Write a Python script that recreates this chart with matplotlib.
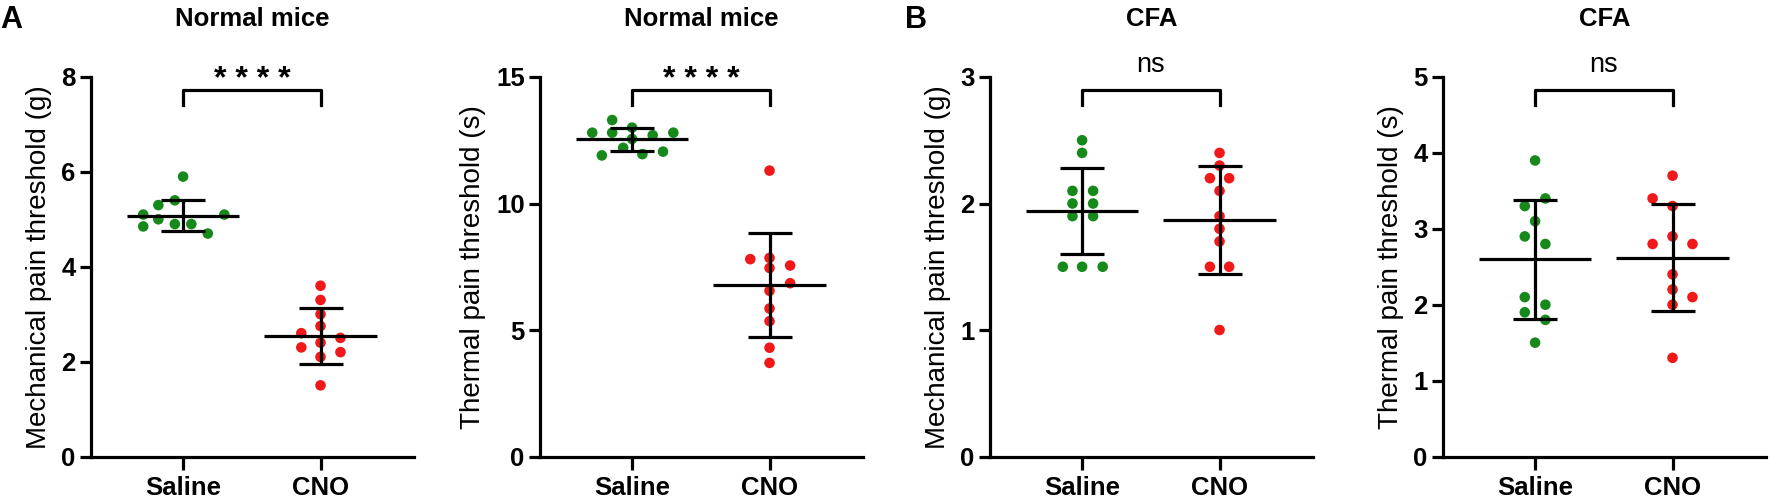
import matplotlib
matplotlib.use("Agg")
import matplotlib.pyplot as plt
import numpy as np

plt.rcParams['font.family'] = ['Liberation Sans', 'DejaVu Sans']

groups = ["Saline", "CNO"]
titles = ["Normal mice", "Normal mice", "CFA", "CFA"]
ylabels = ["Mechanical pain threshold (g)", "Thermal pain threshold (s)",
           "Mechanical pain threshold (g)", "Thermal pain threshold (s)"]
signif = ["* * * *", "* * * *", "ns", "ns"]
ymax = [8, 15, 3, 5]
yticks = [[0, 2, 4, 6, 8], [0, 5, 10, 15], [0, 1, 2, 3], [0, 1, 2, 3, 4, 5]]

# Panel A, mechanical (normal mice)
mech_normal_saline = [5.9, 5.3, 5.4, 5.1, 5.1, 5.0, 4.85, 4.9, 4.9, 4.7]
mech_normal_cno = [3.6, 3.3, 3.0, 2.75, 2.6, 2.5, 2.3, 2.4, 2.2, 2.1, 1.5]
# Panel A, thermal (normal mice)
therm_normal_saline = [13.3, 12.8, 12.8, 13.0, 12.8, 12.7, 12.55, 12.2, 12.05, 11.9, 11.95]
therm_normal_cno = [11.3, 7.8, 7.85, 7.45, 7.55, 6.85, 6.55, 5.85, 5.35, 4.3, 3.7]
# Panel B, mechanical (CFA)
mech_cfa_saline = [2.5, 2.4, 2.1, 2.1, 2.0, 2.0, 1.9, 1.9, 1.5, 1.5, 1.5]
mech_cfa_cno = [2.4, 2.3, 2.2, 2.2, 2.1, 1.9, 1.8, 1.7, 1.5, 1.5, 1.0]
# Panel B, thermal (CFA)
therm_cfa_saline = [3.9, 3.4, 3.3, 3.1, 2.9, 2.8, 2.1, 2.0, 1.9, 1.8, 1.5]
therm_cfa_cno = [3.7, 3.4, 3.3, 2.9, 2.8, 2.8, 2.4, 2.2, 2.1, 2.0, 1.3]

# mean and SD as drawn (saline, CNO)
means = [[5.08, 2.55], [12.54, 6.78], [1.94, 1.87], [2.60, 2.62]]
sds = [[0.32, 0.59], [0.45, 2.07], [0.34, 0.43], [0.785, 0.705]]

# horizontal scatter layout offsets (category units)
jit_1s = [0, -0.18, -0.06, -0.29, 0.30, -0.18, -0.29, -0.06, 0.06, 0.18]
jit_1c = [0, 0, 0, 0, -0.14, 0.145, -0.14, 0, 0.145, 0, 0]
jit_2s = [-0.145, -0.29, -0.145, 0, 0.30, 0.15, 0, -0.065, 0.225, -0.22, 0.075]
jit_2c = [0, -0.14, 0, 0, 0.15, 0.15, 0, 0, 0, 0, 0]
jit_3s = [0, 0, -0.07, 0.08, -0.07, 0.08, -0.07, 0.08, -0.14, 0, 0.15]
jit_3c = [0, 0, -0.07, 0.07, 0, 0, 0, 0, -0.07, 0.07, 0]
jit_4s = [0, 0.075, -0.075, 0, -0.075, 0.075, -0.075, 0.075, -0.075, 0.075, 0]
jit_4c = [0, -0.145, 0, 0, -0.145, 0.145, 0, 0, 0.145, 0, 0]

data = [(mech_normal_saline, mech_normal_cno), (therm_normal_saline, therm_normal_cno),
        (mech_cfa_saline, mech_cfa_cno), (therm_cfa_saline, therm_cfa_cno)]
jits = [(jit_1s, jit_1c), (jit_2s, jit_2c), (jit_3s, jit_3c), (jit_4s, jit_4c)]

colors = ["#17891a", "#f01818"]
lw = 2.3

fig = plt.figure(figsize=(17.72, 5.03), dpi=100)
lefts = [91, 540, 990, 1443]
W, H = 1772, 503
for i in range(4):
    ax = fig.add_axes([lefts[i] / W, (H - 456.5) / H, 323 / W, (456.5 - 77) / H])
    for g in range(2):
        vals = np.array(data[i][g])
        xs = g + np.array(jits[i][g])
        ax.scatter(xs, vals, s=58, color=colors[g], edgecolors='none', zorder=2, clip_on=False)
        m, sd = means[i][g], sds[i][g]
        ax.plot([g - 0.41, g + 0.41], [m, m], color='black', lw=lw, zorder=3, solid_capstyle='butt')
        ax.plot([g, g], [m - sd, m + sd], color='black', lw=lw, zorder=3, solid_capstyle='butt')
        for yy in (m - sd, m + sd):
            ax.plot([g - 0.16, g + 0.16], [yy, yy], color='black', lw=lw, zorder=3, solid_capstyle='butt')
    # bracket
    top = ymax[i]
    by = top * 0.966
    bl = top * 0.927
    ax.plot([0, 0, 1, 1], [bl, by, by, bl], color='black', lw=lw, clip_on=False, zorder=3)
    if signif[i].startswith("*"):
        ax.annotate(signif[i], xy=(0.5, top), xytext=(0, -11.5 * 0.72), textcoords='offset points',
                    ha='center', va='baseline', fontsize=23, fontweight='bold',
                    annotation_clip=False)
    else:
        ax.annotate(signif[i], xy=(0.5, top), xytext=(0, 5 * 0.72), textcoords='offset points',
                    ha='center', va='baseline', fontsize=19.5, annotation_clip=False)
    ax.set_xlim(-0.67, 1.68)
    ax.set_ylim(0, ymax[i])
    ax.set_yticks(yticks[i])
    ax.set_yticklabels([str(t) for t in yticks[i]], fontsize=18.5, fontweight='bold')
    ax.set_xticks([0, 1])
    ax.set_xticklabels(groups, fontsize=18.5, fontweight='bold')
    ax.spines['top'].set_visible(False)
    ax.spines['right'].set_visible(False)
    for s in ('left', 'bottom'):
        ax.spines[s].set_linewidth(lw)
        ax.spines[s].set_capstyle('projecting')
    ax.tick_params(axis='y', length=8, width=lw, pad=3)
    ax.tick_params(axis='x', length=9, width=lw, pad=5)
    ax.set_ylabel(ylabels[i], fontsize=20, labelpad=7)
    ax.set_title(titles[i], fontsize=18.5, fontweight='bold', pad=0, y=1.135)

fig.text(0.0, 0.99, "A", fontsize=22, fontweight='bold', ha='left', va='top')
fig.text(905 / W, 0.99, "B", fontsize=22, fontweight='bold', ha='left', va='top')

fig.savefig("out.png", dpi=100)
